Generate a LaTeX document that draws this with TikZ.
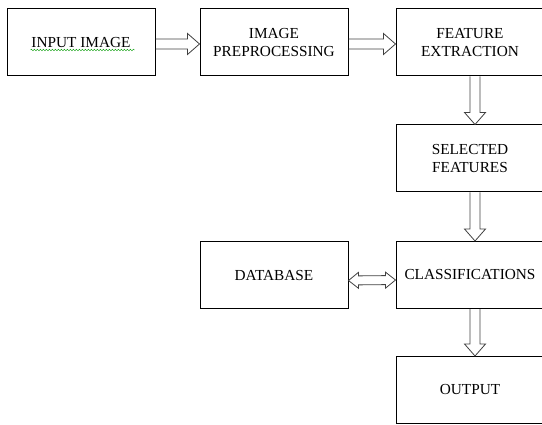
\documentclass[tikz,border=0pt]{standalone}
\usepackage{fontspec}
\setmainfont{Liberation Serif}
\usetikzlibrary{calc,decorations.pathmorphing}

\begin{document}
\begin{tikzpicture}[
    x=1pt, y=-1pt,
    box/.style={draw, line width=1pt, minimum width=148pt, minimum height=67pt,
      align=center, font=\fontsize{15.3}{18}\selectfont, inner sep=0pt},
    flow/.style={line width=0.8pt, draw=black!75, line join=miter, to path={
      ($(\tikztostart)!5pt!90:(\tikztotarget)$)
      -- ($($(\tikztotarget)!12pt!(\tikztostart)$)!5pt!90:(\tikztotarget)$)
      -- ($($(\tikztotarget)!12pt!(\tikztostart)$)!10.5pt!90:(\tikztotarget)$)
      -- (\tikztotarget)
      -- ($($(\tikztotarget)!12pt!(\tikztostart)$)!10.5pt!-90:(\tikztotarget)$)
      -- ($($(\tikztotarget)!12pt!(\tikztostart)$)!5pt!-90:(\tikztotarget)$)
      -- ($(\tikztostart)!5pt!-90:(\tikztotarget)$)}},
    twoway/.style={line width=0.8pt, draw=black!75, line join=miter, to path={
      (\tikztostart)
      -- ($($(\tikztostart)!10pt!(\tikztotarget)$)!8pt!90:(\tikztotarget)$)
      -- ($($(\tikztostart)!10pt!(\tikztotarget)$)!4.5pt!90:(\tikztotarget)$)
      -- ($($(\tikztotarget)!10pt!(\tikztostart)$)!4.5pt!90:(\tikztotarget)$)
      -- ($($(\tikztotarget)!10pt!(\tikztostart)$)!8pt!90:(\tikztotarget)$)
      -- (\tikztotarget)
      -- ($($(\tikztotarget)!10pt!(\tikztostart)$)!8pt!-90:(\tikztotarget)$)
      -- ($($(\tikztotarget)!10pt!(\tikztostart)$)!4.5pt!-90:(\tikztotarget)$)
      -- ($($(\tikztostart)!10pt!(\tikztotarget)$)!4.5pt!-90:(\tikztotarget)$)
      -- ($($(\tikztostart)!10pt!(\tikztotarget)$)!8pt!-90:(\tikztotarget)$)
      -- cycle}}
    ]
    \useasboundingbox (0,0) rectangle (542,425);
    \node[box] (inp) at (81,42.5) {INPUT IMAGE};
    \node[box] (pre) at (274,42.5) {IMAGE\\PREPROCESSING};
    \node[box] (fex) at (470,42.5) {FEATURE\\EXTRACTION};
    \node[box] (sel) at (470,158.5) {SELECTED\\FEATURES};
    \node[box] (cls) at (470,275) {CLASSIFICATIONS};
    \node[box] (db) at (274,275.5) {DATABASE};
    \node[box] (out) at (470,390) {OUTPUT};
    \draw[green!60!black, decorate, decoration={snake, amplitude=0.8pt, segment length=3pt}]
      ([xshift=24pt, yshift=-7.5pt]inp.west) -- ([xshift=-21pt, yshift=-7.5pt]inp.east);
    \draw[flow] ([yshift=-1.5pt]inp.east) to ([yshift=-1.5pt]pre.west);
    \draw[flow] ([yshift=-1.5pt]pre.east) to ([yshift=-1.5pt]fex.west);
    \draw[flow] ([xshift=5pt]fex.south) to ([xshift=5pt]sel.north);
    \draw[flow] ([xshift=5pt]sel.south) to ([xshift=5pt]cls.north);
    \draw[twoway] ([yshift=-5pt]db.east) to ([yshift=-5pt]cls.west);
    \draw[flow] ([xshift=5pt]cls.south) to ([xshift=5pt]out.north);
  \end{tikzpicture}
\end{document}
